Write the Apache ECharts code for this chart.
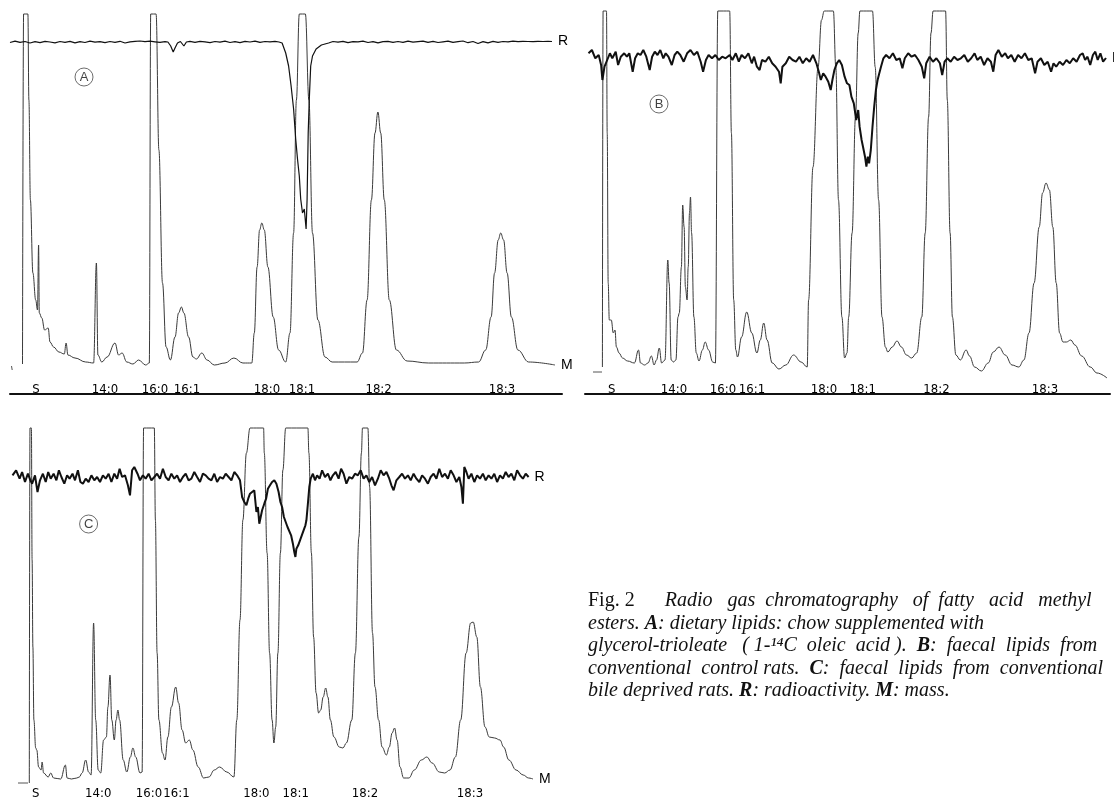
<!DOCTYPE html>
<html><head><meta charset="utf-8">
<script src="https://cdn.jsdelivr.net/npm/echarts@6/dist/echarts.min.js"></script>
<style>html,body{margin:0;padding:0;background:#fff}#c{width:1114px;height:798px}</style>
</head><body><div id="c"></div>
<script>
// ---- peak (tick) labels ----
const peakNames = ['S','14:0','16:0','16:1','18:0','18:1','18:2','18:3'];
const peakPosA = [26, 95, 145, 177, 257, 292, 368.6, 492];
const peakPosB = [26.7, 89, 138, 167, 239, 277.7, 351.5, 460];
const peakPosC = [25.7, 88.2, 139, 166.5, 246.4, 285.7, 355, 460];

// ---- panel A : mass trace (retention distance, detector units) ----
const massA = [[12.5,0],[13.6,350],[17.9,350],[18.9,264],[20.4,164],[22.9,91],[25.7,64],[27.5,54],[28.6,119],[29.3,51],[31.8,46],[34.6,34],[38.2,36],[40,22],[43.6,17],[48.9,12],[54.3,10],[56.1,21],[57.9,9],[65,6],[75.7,2],[83.6,1],[86.4,101],[87.9,9],[91.8,2],[97.1,7],[105,21],[108.6,9],[112.1,11],[116.8,2],[122.9,0],[128.6,4],[135.7,-1],[139.3,1],[140.7,350],[146.1,350],[148.9,214],[152.5,81],[156.1,17],[160.4,4],[165,27],[168.6,51],[171.4,57],[173.9,51],[178.6,27],[182.9,7],[186.4,5],[191.8,11],[197.1,4],[204.3,-1],[215,1],[223.9,6],[232.9,1],[241.8,1],[244.3,31],[247.1,97],[249.6,134],[251.8,141],[254.3,134],[257.9,97],[263.2,47],[268.6,14],[275.7,2],[280,31],[283.6,131],[286.4,264],[289.3,350],[295.4,350],[298.9,264],[302.5,131],[307.9,44],[315,7],[322.1,2],[347.1,2],[352.5,11],[357.1,64],[361.4,164],[365,231],[367.9,252],[370.7,231],[374.3,164],[379.3,64],[386.4,14],[397.1,3],[418.6,1],[454.3,1],[468.6,2],[475.7,14],[481.1,47],[484.6,91],[488.2,124],[490.7,131],[493.6,124],[497.1,91],[501.4,47],[507.9,14],[518.6,2],[545,-1]];
// ---- panel A : radioactivity trace (deflection from baseline) ----
const radioA = [[0,-0.5],[5,0.8],[10,-0.3],[15,0.5],[20,-1],[25,0.4],[30,-0.6],[35,0.7],[40,0],[45,-0.8],[50,0.5],[55,-0.4],[60,0.6],[65,-0.9],[70,0.3],[75,-0.5],[80,0.8],[85,-0.2],[90,0.4],[95,-0.7],[100,0.5],[105,-0.3],[110,0.7],[115,-1],[120,0.2],[125,0.6],[130,1],[135,0.4],[140,0.8],[145,0.2],[150,-0.4],[155,0.3],[157.9,0],[160.7,-4],[163.2,-10],[165,-6],[167.5,-1],[170.4,0.5],[173.9,-4],[176.4,0],[180,0.6],[185,-0.3],[190,0.7],[195,0.1],[200,-0.6],[205,0.5],[210,-0.2],[215,0.8],[220,-0.5],[225,0.3],[230,-0.7],[235,0.6],[240,0],[245,0.8],[250,-0.3],[255,0.5],[260,0.2],[265,0.6],[269,0],[272.1,-1],[275.7,-11],[278.6,-24],[281.1,-44],[283.6,-67],[285.7,-97],[287.5,-117],[289.3,-134],[290.7,-157],[292.5,-171],[294.3,-167],[296.1,-187],[297.1,-157],[298.2,-91],[299.3,-57],[300.7,-24],[302.5,-14],[306.1,-7],[311.4,-3],[318.6,-1],[323,0.5],[328,-0.2],[333,0.7],[338,-0.6],[343,0.4],[348,0.1],[353,0.8],[358,-0.5],[363,0.3],[368,-0.9],[373,0.4],[378,0.6],[383,-0.3],[388,0.5],[393,-0.4],[398,0.8],[403,-0.2],[408,0.4],[413,0.9],[418,-0.3],[423,0.6],[428,-0.5],[433,0.2],[438,0.8],[443,-0.4],[448,0.3],[453,1],[458,-0.7],[463,0.5],[468,-1.5],[473,0.4],[478,-0.8],[483,0.6],[488,-0.3],[493,0.5],[498,0.2],[503,0.8],[508,0.3],[513,0.6],[518,0.5],[523,0.4],[528,0.7],[533,0.5],[538,0.6],[542,0.5]];

// ---- panel B ----
const massB = [[17.4,1],[18.1,357],[21.5,357],[22.2,235],[23.2,85],[24.3,48],[26.3,48],[28.3,35],[30,38],[31.4,21],[34.1,15],[37.5,10],[42.6,7],[49.4,5],[53.5,18],[55.5,5],[59.6,3],[63,5],[66.4,12],[69.1,3],[71.5,8],[74.3,20],[76.6,5],[80,8],[82.8,108],[84.1,85],[86.2,8],[88.5,6],[90.9,8],[93,51],[94.3,55],[96.4,101],[97.7,163],[99.1,141],[100.4,81],[102.1,68],[103.2,101],[104.5,155],[105.5,171],[106.6,135],[108.9,51],[111.3,15],[114,7],[117.4,18],[120.2,26],[123.6,18],[127.7,6],[130.4,5],[132.8,357],[144.7,357],[146.4,235],[148.7,68],[150.8,18],[152.5,11],[156.6,31],[161.7,56],[166.8,35],[171.9,15],[175.3,28],[178.7,45],[182.1,28],[187.2,5],[194,-1],[200.8,3],[208.6,13],[216.1,6],[222.2,1],[223.6,68],[228,201],[233.1,301],[236.5,348],[239.2,357],[248.4,357],[250.8,301],[253.5,168],[256.9,51],[259.6,10],[262,15],[263.7,51],[267.1,135],[270.5,251],[273.2,335],[274.9,357],[287.5,357],[290.2,301],[293.6,168],[297,51],[300.4,21],[302.8,16],[307.2,21],[312,27],[316.4,21],[321.5,13],[326.6,10],[331.7,15],[336.8,51],[340.2,135],[343.6,251],[346,335],[348.1,357],[360.6,357],[362.3,268],[365.1,135],[367.4,51],[370.9,13],[375.3,8],[381.1,18],[384.5,12],[389.6,1],[396.4,-3],[403.2,5],[408.3,16],[414,21],[420.2,13],[427,3],[433.8,1],[438.9,8],[444,35],[449.1,85],[454.2,141],[457.6,175],[461,185],[464.4,178],[467.8,141],[471.2,85],[474.6,35],[478,26],[481.4,26],[485.8,28],[489.9,23],[496.7,12],[505.2,1],[512,-5],[522,-10]];
const radioB = [[3.5,5.7],[6.9,9],[10.3,0.7],[13.7,4],[16.1,-6],[17.4,-21],[19.5,-7.7],[22.2,-1],[24.9,5.7],[27.3,0.7],[30.7,7.3],[33.1,-6],[35.8,2.3],[39.2,5.7],[41.9,2.3],[44.3,5.7],[47.7,-12.7],[50.1,0.7],[52.8,5.7],[55.5,4],[58.3,9],[61.3,2.3],[64.7,-11],[67.1,2.3],[69.8,7.3],[72.5,4],[75.3,9],[78.3,0.7],[80.7,5.7],[83.4,2.3],[86.8,-6],[89.6,4],[92.3,7.3],[95.3,4],[98.7,-2.7],[102.1,5.7],[105.5,9],[108.9,4],[112.3,7.3],[115.7,-2.7],[118.1,-12.7],[120.9,-1],[123.6,4],[127,0.7],[130.4,4],[133.8,-1],[137.2,2.3],[140.6,0.7],[144.7,4],[147.4,-1],[150.8,5.7],[153.8,-2.7],[156.6,4],[160,0.7],[163.4,5.7],[166.8,-4.3],[169.1,2.3],[171.9,-7.7],[174.6,-11],[177,-1],[180.4,-2.7],[183.8,2.3],[187.2,-4.3],[190.6,-7.7],[194,-12.7],[195.7,-24.3],[197.4,-7.7],[200.8,-4.3],[204.2,2.3],[207.6,-1],[211,-2.7],[214.4,2.3],[217.8,-4.3],[221.2,0.7],[224.6,-2.7],[228,4],[231.4,-4.3],[233.8,-12.7],[235.8,-21],[238.2,-14.3],[240.6,-17.7],[243.3,-22.7],[245.7,-31],[247.4,-21],[249.4,-11],[251.8,-4.3],[254.2,-1],[256.9,-6],[259.6,-17.7],[262,-24.3],[264.4,-26],[266.4,-37.7],[268.8,-44.3],[271.2,-61],[273.2,-51],[274.6,-67.7],[276.6,-81],[278,-87.7],[280,-97.7],[281.4,-107.7],[282.8,-97.7],[284.1,-104.3],[285.8,-91],[287.5,-67.7],[289.2,-47.7],[290.9,-31],[292.6,-21],[294.3,-14.3],[296,-7.7],[298.4,0.7],[301.1,4],[304.5,0.7],[307.9,5.7],[311.3,-1],[314.7,0.7],[317.4,-9.3],[319.8,0.7],[323.2,5.7],[326.6,2.3],[330,4],[333.4,-1],[336.8,-7.7],[339.2,-19.3],[341.2,-4.3],[344.6,2.3],[348,-2.7],[351.4,0.7],[354.9,-4.3],[357.2,-16],[359.6,-2.7],[362.3,0.7],[365.7,-2.7],[369.1,2.3],[372.5,-1],[375.9,0.7],[379.3,4],[382.8,-2.7],[386.2,0.7],[389.6,5.7],[392.3,-1],[395.7,2.3],[399.1,-6],[402.5,0.7],[405.9,-2.7],[408.3,-12.7],[410.6,4],[413.4,9],[416.8,2.3],[420.2,5.7],[422.9,0.7],[426.3,4],[429.7,-2.7],[433.1,4],[436.5,0.7],[439.9,5.7],[443.3,-1],[446.7,0.7],[450.1,-14.3],[452.5,-2.7],[455.9,0.7],[459.3,-6],[462.7,-2.7],[466.1,-12.7],[468.5,-4.3],[471.2,-7.7],[474.6,-2.7],[478,-6],[481.4,-1],[484.8,-4.3],[488.2,0.7],[491.6,-2.7],[495,4],[497.7,5.7],[500.1,-1],[502.5,2.3],[505.2,-6],[507.9,4],[510.3,7.3],[512.7,-1],[515.4,5.7],[518.1,-2.7],[521,1]];

// ---- panel C ----
const massC = [[19.3,-3],[20,352],[21.4,352],[22.1,220],[22.9,133],[23.9,60],[25.7,32],[26.8,30],[28.6,13],[31.1,10],[32.1,18],[33.6,7],[38.2,3],[40.7,7],[43.6,2],[50.7,1],[55.4,15],[57.1,2],[61.4,1],[66.8,2],[69.3,3],[72.1,7],[75.7,20],[78.6,8],[81.1,5],[83.6,157],[85.7,60],[88.2,10],[90.7,7],[93.6,40],[96.4,43],[97.9,73],[100,105],[101.8,60],[104.3,40],[106.1,60],[107.9,70],[109.6,60],[113.2,20],[116.8,8],[120.4,23],[122.9,32],[125.7,23],[130,7],[132.1,8],[133.6,352],[144.3,352],[145.4,260],[147.1,127],[148.9,60],[152.5,27],[155,20],[157.9,43],[161.4,73],[165.7,93],[168.6,77],[172.1,50],[175.7,37],[179.3,40],[182.9,30],[188.2,13],[193.6,2],[198.9,3],[204.3,10],[209.6,13],[216.8,8],[223.9,3],[226.8,60],[230,160],[232.9,260],[236.4,327],[240,352],[253.6,352],[254.3,327],[257.1,227],[259.6,127],[262.1,60],[263.9,37],[265.7,53],[267.9,127],[270.4,227],[272.9,310],[275.7,352],[297.9,352],[298.9,327],[301.4,227],[303.6,143],[306.1,87],[308.6,67],[310.7,70],[313.2,83],[315.7,92],[317.9,83],[320.4,60],[323.9,43],[329.3,33],[332.9,32],[336.4,37],[341.8,60],[345.4,127],[348.9,243],[351.4,327],[352.5,352],[357.9,352],[359.6,293],[362.5,147],[365,93],[368.6,60],[372.1,33],[376.4,25],[379.3,33],[382.1,47],[384.6,52],[387.1,40],[390,13],[393.6,2],[398.9,2],[404.3,10],[411.4,20],[416.8,23],[422.1,17],[429.3,8],[434.6,7],[440,10],[445.4,23],[450.7,60],[456.1,127],[460.7,157],[463.2,158],[466.8,143],[470.4,93],[475,53],[479.3,43],[484.6,42],[490,40],[493.6,33],[498.9,20],[506.1,10],[513.2,5],[518.6,2],[523,1]];
const radioC = [[2.5,1.7],[6.1,6.7],[9.6,-1.7],[12.1,5],[15,-5],[17.9,3.3],[20.4,-3.3],[22.1,-6.7],[25,1.7],[27.5,-15],[30,-3.3],[32.9,3.3],[35.7,-5],[38.2,5],[40.7,-1.7],[43.6,3.3],[46.4,-3.3],[48.9,6.7],[51.4,0],[54.3,-6.7],[57.1,1.7],[59.6,-1.7],[62.5,3.3],[65,-3.3],[67.9,6.7],[70.4,-5],[72.9,-6.7],[75.7,-1.7],[78.6,-5],[81.4,1.7],[84.3,-3.3],[87.1,0],[90,-5],[92.9,1.7],[95.7,-1.7],[98.6,3.3],[101.4,-5],[104.3,3.3],[107.1,-1.7],[109.6,8.3],[112.1,0],[115,1.7],[117.9,-8.3],[120,-18.3],[122.1,6.7],[124.3,10],[127.5,3.3],[130,-3.3],[132.9,1.7],[135.7,-1.7],[138.6,3.3],[141.4,-3.3],[144.3,0],[147.1,3.3],[150,-1.7],[152.9,8.3],[155.7,0],[158.6,-3.3],[161.4,3.3],[164.3,-1.7],[167.1,1.7],[170,-5],[172.9,0],[175.7,3.3],[178.6,-3.3],[181.4,-1.7],[184.3,5],[187.1,0],[190,-5],[192.9,3.3],[195.7,1.7],[198.6,-1.7],[201.4,-3.3],[204.3,3.3],[207.1,-5],[210,0],[212.9,-1.7],[215.7,3.3],[218.6,0],[221.4,-3.3],[224.3,5],[227.1,1.7],[230,-3.3],[232.1,-20],[234.3,-25],[236.4,-28.3],[238.2,-21.7],[240,-16.7],[242.1,-15],[244.3,-13.3],[246.4,-35],[247.9,-30],[249.3,-46.7],[250.7,-40],[252.1,-33.3],[254.3,-26.7],[256.1,-21.7],[257.9,-11.7],[260,-8.3],[262.1,-5],[264.3,-3.3],[266.4,-6.7],[268.6,-15],[270.4,-25],[272.1,-30],[273.9,-40],[275.7,-45],[277.5,-50],[279.3,-51.7],[281.1,-58.3],[282.9,-66.7],[284.3,-75],[285.4,-80],[286.4,-71.7],[288.2,-68.3],[290,-63.3],[291.8,-58.3],[293.6,-53.3],[295.4,-48.3],[296.4,-43.3],[297.9,-26.7],[299.3,-10],[300.7,-1.7],[302.9,3.3],[305,-3.3],[307.1,1.7],[309.6,-1.7],[312.1,6.7],[315,0],[317.9,3.3],[320.4,-3.3],[322.9,1.7],[325.7,5],[328.6,-1.7],[331.1,8.3],[333.6,3.3],[336.4,-6.7],[339.3,0],[342.1,-1.7],[345,3.3],[347.9,1.7],[350.7,6.7],[353.6,-1.7],[356.4,1.7],[359.3,-5],[362.1,0],[365,-8.3],[367.9,-1.7],[370.7,6.7],[373.6,1.7],[376.4,5],[379.3,-1.7],[381.4,-8.3],[383.6,-13.3],[386.4,-3.3],[389.3,0],[392.1,3.3],[395,-1.7],[397.9,1.7],[400.7,-3.3],[403.6,3.3],[406.4,-1.7],[409.3,-5],[412.1,1.7],[415,-1.7],[417.9,-6.7],[420.7,0],[423.6,3.3],[426.4,-1.7],[429.3,8.3],[432.1,0],[435,3.3],[437.9,-1.7],[440.7,6.7],[443.6,1.7],[446.4,-5],[449.3,0],[451.4,-10],[452.9,-26.7],[454.3,10],[456.4,5],[458.6,-1.7],[461.4,3.3],[464.3,-5],[467.1,1.7],[470,-1.7],[472.9,3.3],[475.7,-3.3],[478.6,1.7],[481.4,-1.7],[484.3,3.3],[487.1,-5],[490,1.7],[492.9,-1.7],[495.7,5],[498.6,0],[501.4,3.3],[504.3,-3.3],[507.1,6.7],[510,1.7],[512.9,-1.7],[515.7,3.3],[518.6,0]];

// ---- pen zero marks on the mass baseline ----
const zeroMarkA = [[1.5,-2],[2.2,-6]];
const zeroMarkB = [[8,-4],[17,-4]];
const zeroMarkC = [[8,-3],[18,-3]];

// ---- circled panel letters [x, mass-units y] ----
const letterA = [74, 287];
const letterB = [74, 264];
const letterC = [78.6, 256];

const panels = [
  {name:'A', grid:{left:10, top:12, width:552, height:382}, xMax:552, massRange:[-30,352], radioRange:[-352,30], rule:true, mass:massA, radio:radioA, zero:zeroMarkA, ticks:peakPosA, letter:letterA, rw:1.2},
  {name:'B', grid:{left:585, top:9, width:525, height:385}, xMax:525, massRange:[-26,359], radioRange:[-335,50], rule:true, mass:massB, radio:radioB, zero:zeroMarkB, ticks:peakPosB, letter:letterB, rw:2},
  {name:'C', grid:{left:10, top:426, width:552, height:372}, xMax:552, massRange:[-18,354], radioRange:[-321,51], rule:false, mass:massC, radio:radioC, zero:zeroMarkC, ticks:peakPosC, letter:letterC, rw:2}
];

const grid = [], xAxis = [], yAxis = [], series = [];
const labelFont = '"Liberation Sans Narrow","DejaVu Sans Condensed","Arial Narrow",sans-serif';
const sansFont = '"Liberation Sans",Arial,sans-serif';
panels.forEach((p, i) => {
  grid.push(Object.assign({outerBoundsMode:'none', containLabel:false}, p.grid));
  const ticks = p.ticks;
  xAxis.push({
    type:'value', gridIndex:i, min:0, max:p.xMax,
    axisLine:{show:p.rule, onZero:false, lineStyle:{color:'#111', width:2}},
    axisTick:{show:false}, splitLine:{show:false},
    axisLabel:{show:true, inside:true, margin:-2, customValues:ticks,
      formatter:(v)=>{ const k = ticks.indexOf(v); return k>=0 ? peakNames[k] : ''; },
      color:'#000', fontSize:13, fontFamily:labelFont}
  });
  yAxis.push({type:'value', gridIndex:i, min:p.massRange[0], max:p.massRange[1], show:false});
  yAxis.push({type:'value', gridIndex:i, min:p.radioRange[0], max:p.radioRange[1], show:false});
  series.push({
    type:'line', name:'M'+p.name, xAxisIndex:i, yAxisIndex:2*i, data:p.mass,
    showSymbol:false, smooth:0.4, smoothMonotone:'x', clip:false,
    lineStyle:{color:'#3a3a3a', width:1},
    endLabel:{show:true, formatter:'M', distance:6, color:'#000', fontSize:14, fontFamily:sansFont}
  });
  series.push({
    type:'line', name:'R'+p.name, xAxisIndex:i, yAxisIndex:2*i+1, data:p.radio,
    showSymbol:false, smooth:false, clip:false,
    lineStyle:{color:'#111', width:p.rw},
    endLabel:{show:true, formatter:'R', distance:6, color:'#000', fontSize:14, fontFamily:sansFont}
  });
  series.push({
    type:'line', name:'Z'+p.name, xAxisIndex:i, yAxisIndex:2*i, data:p.zero,
    showSymbol:false, clip:false, lineStyle:{color:'#555', width:1}, silent:true
  });
  series.push({
    type:'scatter', xAxisIndex:i, yAxisIndex:2*i, symbol:'circle', symbolSize:18,
    data:[{value:p.letter, name:p.name}],
    itemStyle:{color:'rgba(255,255,255,0)', borderColor:'#333', borderWidth:0.9},
    label:{show:true, position:'inside', formatter:'{b}', color:'#111', fontSize:13, fontFamily:sansFont},
    silent:true
  });
});

const cap = [
  '{n|Fig. 2}{i|      Radio   gas  chromatography   of  fatty   acid   methyl}',
  '{i|esters. }{b|A}{i|: dietary lipids: chow supplemented with}',
  '{i|glycerol-trioleate   ( 1-¹⁴C  oleic  acid ).  }{b|B}{i|:  faecal  lipids  from}',
  '{i|conventional  control rats.  }{b|C}{i|:  faecal  lipids  from  conventional}',
  '{i|bile deprived rats. }{b|R}{i|: radioactivity. }{b|M}{i|: mass.}'
].join('\n');
const serif = '"Liberation Serif","Times New Roman",serif';

const chart = echarts.init(document.getElementById('c'), null, {renderer:'canvas'});
chart.setOption({
  backgroundColor:'#fff',
  animation:false,
  title:{
    text:cap, left:588, top:590, padding:0,
    textStyle:{fontSize:20, lineHeight:22.4, color:'#111', fontFamily:serif, fontWeight:'normal',
      rich:{
        n:{fontSize:20, lineHeight:22.4, fontFamily:serif, fontStyle:'normal', color:'#111'},
        i:{fontSize:20, lineHeight:22.4, fontFamily:serif, fontStyle:'italic', color:'#111'},
        b:{fontSize:20, lineHeight:22.4, fontFamily:serif, fontStyle:'italic', fontWeight:'bold', color:'#111'}
      }}
  },
  grid, xAxis, yAxis, series
});
</script>
</body></html>
